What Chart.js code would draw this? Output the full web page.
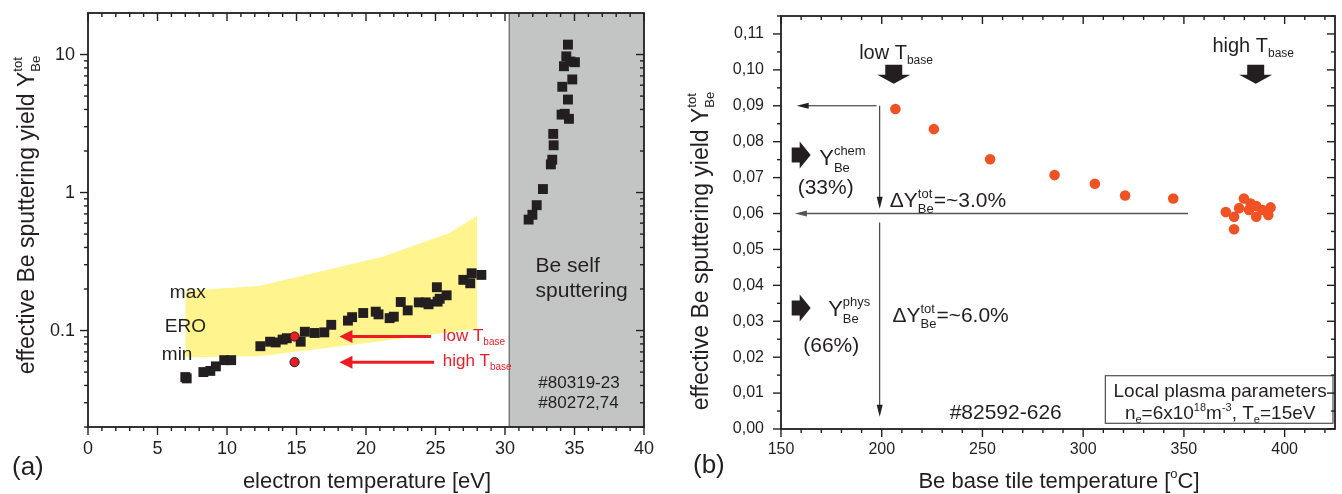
<!DOCTYPE html>
<html>
<head>
<meta charset="utf-8">
<script src="https://cdn.jsdelivr.net/npm/chart.js@4.4.0/dist/chart.umd.min.js"></script>
<style>
  html, body { margin: 0; padding: 0; background: #fff; }
  #wrap { position: relative; width: 1342px; height: 494px; }
  canvas { position: absolute; top: 0; }
  #chart-a { left: 0; }
  #chart-b { left: 660px; }
</style>
</head>
<body>
<div id="wrap">
  <canvas id="chart-a" width="660" height="494"></canvas>
  <canvas id="chart-b" width="682" height="494"></canvas>
</div>
<script>
const INK = '#231f20';
const RED = '#ed1c24';
const ORANGE = '#f05224';
const FONT = '"Liberation Sans", Arial, Helvetica, sans-serif';

// ---- (a) yield vs electron temperature ----
const teEro  = [7, 12.3, 21.2, 26, 28];
const eroMax = [0.194, 0.21, 0.343, 0.51, 0.68];
const eroMin = [0.064, 0.065, 0.084, 0.097, 0.103];

const teMeas = [7.0, 7.1, 8.3, 8.8, 9.2, 9.8, 10.3, 12.4, 13.1, 13.5, 14.0, 14.3, 15.3, 15.6, 16.3, 17.0, 17.5, 18.7, 19.0, 19.8, 20.7, 20.9, 21.7, 22.0, 22.5, 23.0, 23.8, 24.3, 24.5, 25.1, 25.15, 25.3, 25.8, 27.0, 27.5, 27.6, 28.3];
const yMeas  = [0.046, 0.045, 0.050, 0.051, 0.055, 0.061, 0.061, 0.077, 0.083, 0.082, 0.086, 0.088, 0.083, 0.098, 0.096, 0.097, 0.110, 0.118, 0.125, 0.134, 0.137, 0.131, 0.123, 0.126, 0.161, 0.140, 0.160, 0.160, 0.155, 0.206, 0.162, 0.170, 0.180, 0.233, 0.220, 0.260, 0.253];

const teSelf = [31.7, 31.97, 32.28, 32.73, 33.3, 33.4, 33.5, 33.47, 34.07, 34.3, 34.6, 34.53, 34.12, 34.84, 34.24, 34.41, 35.03, 34.7, 34.53];
const ySelf  = [0.637, 0.69, 0.81, 1.06, 1.6, 1.73, 2.2, 2.66, 3.67, 3.72, 3.42, 4.72, 5.84, 6.6, 8.23, 9.7, 8.8, 8.9, 11.8];

const teMarked = [14.86, 14.86];   // low / high T_base
const yMarked  = [0.0905, 0.059];

const selfRange = [30.3, 40];

const xTicksA = [0, 5, 10, 15, 20, 25, 30, 35, 40];
const yTicksA = [0.1, 1, 10];
const yTickLabelsA = ['0.1', '1', '10'];

// ---- (b) yield vs base tile temperature ----
const tBase = [206.8, 225.9, 253.8, 285.8, 305.8, 320.8, 344.7, 370.8, 374.9, 374.9, 377.4, 379.8, 382.3, 383.1, 385.9, 385.9, 388.9, 391.9, 393.0];
const yBase = [0.0891, 0.0835, 0.0751, 0.0707, 0.0683, 0.0650, 0.0642, 0.0604, 0.0591, 0.0556, 0.0615, 0.0642, 0.0610, 0.0628, 0.0621, 0.0591, 0.0610, 0.0596, 0.0617];

const xTicksB = [150, 200, 250, 300, 350, 400];
const yTicksB = [0, 0.01, 0.02, 0.03, 0.04, 0.05, 0.06, 0.07, 0.08, 0.09, 0.10, 0.11];
const yTickLabelsB = ['0,00', '0,01', '0,02', '0,03', '0,04', '0,05', '0,06', '0,07', '0,08', '0,09', '0,10', '0,11'];

// minor tick values
const xMinorA = [];
for (let v = 1; v < 40; v++) if (v % 5) xMinorA.push(v);
const yMinorA = [];
[0.01, 0.1, 1].forEach(d => { for (let k = 2; k <= 9; k++) if (d * k > 0.02 - 1e-9) yMinorA.push(d * k); });
const xMinorB = [];
for (let v = 160; v <= 420; v += 10) if (v % 50) xMinorB.push(v);
const yMinorB = [];
for (let k = 0; k < 12; k++) yMinorB.push(k * 0.01 + 0.005);

const pts = (xs, ys) => xs.map((x, i) => ({ x, y: ys[i] }));

function line(ctx, x1, y1, x2, y2) {
  ctx.beginPath(); ctx.moveTo(x1, y1); ctx.lineTo(x2, y2); ctx.stroke();
}

// text runs: [text, size, dy] or { sup: [...], sub: [...] }
function rich(ctx, parts, x, y, align) {
  const w = p => { ctx.font = p[1] + 'px ' + FONT; return ctx.measureText(p[0]).width; };
  let total = 0;
  parts.forEach(p => {
    total += Array.isArray(p) ? w(p) : Math.max(p.sup ? w(p.sup) : 0, p.sub ? w(p.sub) : 0);
  });
  let cx = align === 'center' ? x - total / 2 : x;
  ctx.textAlign = 'left';
  ctx.textBaseline = 'alphabetic';
  parts.forEach(p => {
    if (Array.isArray(p)) {
      ctx.font = p[1] + 'px ' + FONT;
      ctx.fillText(p[0], cx, y + (p[2] || 0));
      cx += ctx.measureText(p[0]).width;
    } else {
      let m = 0;
      [p.sup, p.sub].forEach(q => {
        if (!q) return;
        ctx.font = q[1] + 'px ' + FONT;
        ctx.fillText(q[0], cx, y + q[2]);
        m = Math.max(m, ctx.measureText(q[0]).width);
      });
      cx += m;
    }
  });
}

function text(ctx, s, x, y, size, align) {
  ctx.font = size + 'px ' + FONT;
  ctx.textAlign = align || 'left';
  ctx.textBaseline = 'middle';
  ctx.fillText(s, x, y);
}

const yTitle = [['effective Be sputtering yield Y', 23], { sup: ['tot', 13, -12], sub: ['Be', 13, 6] }];

// frame + tick marks on all four sides
const frameTicks = {
  id: 'frameTicks',
  afterDraw(chart, args, o) {
    const { ctx, chartArea: a, scales: { x, y } } = chart;
    ctx.save();
    ctx.strokeStyle = INK;
    ctx.lineWidth = 1.4;
    const xt = (vals, len) => vals.forEach(v => {
      const p = x.getPixelForValue(v);
      line(ctx, p, a.bottom, p, a.bottom + len);
      line(ctx, p, a.top, p, a.top + len);
    });
    const yt = (vals, len) => vals.forEach(v => {
      const p = y.getPixelForValue(v);
      line(ctx, a.left - len, p, a.left, p);
      line(ctx, a.right - len, p, a.right, p);
    });
    xt(o.xMajor, 8); xt(o.xMinor, 4);
    yt(o.yMajor, 8); yt(o.yMinor, 4);
    ctx.lineWidth = 1.8;
    ctx.strokeRect(a.left, a.top, a.right - a.left, a.bottom - a.top);
    ctx.restore();
  }
};

const notesA = {
  id: 'notesA',
  beforeDatasetsDraw(chart) {
    const { ctx, chartArea: a, scales: { x } } = chart;
    const x0 = x.getPixelForValue(selfRange[0]);
    const x1 = x.getPixelForValue(selfRange[1]);
    ctx.save();
    ctx.fillStyle = '#c3c4c4';
    ctx.fillRect(x0, a.top, x1 - x0, a.bottom - a.top);
    ctx.strokeStyle = '#4a4a4a';
    ctx.lineWidth = 1;
    line(ctx, x0, a.top, x0, a.bottom);
    ctx.restore();
  },
  afterDatasetsDraw(chart) {
    const { ctx, scales: { x, y } } = chart;
    const X = v => x.getPixelForValue(v), Y = v => y.getPixelForValue(v);
    ctx.save();
    ctx.fillStyle = INK;
    text(ctx, 'max', X(5.89), Y(0.187), 19);
    text(ctx, 'ERO', X(5.53), Y(0.106), 19);
    text(ctx, 'min', X(5.31), Y(0.0667), 19);
    text(ctx, 'Be self', X(32.2), Y(0.292), 21);
    text(ctx, 'sputtering', X(32.2), Y(0.193), 21);
    text(ctx, '#80319-23', X(32.4), Y(0.0418), 17);
    text(ctx, '#80272,74', X(32.4), Y(0.0299), 17);

    // red arrows
    ctx.strokeStyle = RED; ctx.fillStyle = RED; ctx.lineWidth = 3;
    [[24.67, 0.0905], [24.9, 0.059]].forEach(([from, v]) => {
      const p1 = X(from), p2 = X(18.09), py = Y(v);
      line(ctx, p1, py, p2 + 10, py);
      ctx.beginPath();
      ctx.moveTo(p2, py); ctx.lineTo(p2 + 13, py - 6.5); ctx.lineTo(p2 + 13, py + 6.5);
      ctx.closePath(); ctx.fill();
    });
    rich(ctx, [['low T', 17], { sub: ['base', 10, 4] }], X(25.52), Y(0.0842));
    rich(ctx, [['high T', 17], { sub: ['base', 10, 4] }], X(25.52), Y(0.0555));

    // titles
    ctx.fillStyle = INK;
    rich(ctx, [['electron temperature [eV]', 22]], 367, 488, 'center');
    rich(ctx, [['(a)', 26]], 12, 475);
    ctx.translate(34, 215);
    ctx.rotate(-Math.PI / 2);
    rich(ctx, yTitle, 0, 0, 'center');
    ctx.restore();
  }
};

const notesB = {
  id: 'notesB',
  afterDatasetsDraw(chart) {
    const { ctx, chartArea: a, scales: { x, y } } = chart;
    const X = v => x.getPixelForValue(v), Y = v => y.getPixelForValue(v);
    ctx.save();
    ctx.fillStyle = INK;
    ctx.strokeStyle = INK;

    // block arrows
    const down = (cx, top) => {
      ctx.beginPath();
      ctx.moveTo(cx - 8.5, top); ctx.lineTo(cx + 8.5, top); ctx.lineTo(cx + 8.5, top + 10);
      ctx.lineTo(cx + 16.5, top + 10); ctx.lineTo(cx, top + 19); ctx.lineTo(cx - 16.5, top + 10);
      ctx.lineTo(cx - 8.5, top + 10); ctx.closePath(); ctx.fill();
    };
    const right = (left, cy) => {
      ctx.beginPath();
      ctx.moveTo(left, cy - 7.5); ctx.lineTo(left + 8, cy - 7.5); ctx.lineTo(left + 8, cy - 13.5);
      ctx.lineTo(left + 19, cy); ctx.lineTo(left + 8, cy + 13.5); ctx.lineTo(left + 8, cy + 7.5);
      ctx.lineTo(left, cy + 7.5); ctx.closePath(); ctx.fill();
    };
    down(X(205.97), Y(0.1014));
    down(X(385.64), Y(0.1014));
    right(X(155.3), Y(0.0763));
    right(X(155.3), Y(0.0337));

    // thin arrows
    const hArrow = (from, to, v, lw, col) => {
      const py = Y(v), tip = X(to);
      ctx.strokeStyle = col; ctx.fillStyle = col; ctx.lineWidth = lw;
      line(ctx, X(from), py, tip + 8, py);
      ctx.beginPath(); ctx.moveTo(tip, py); ctx.lineTo(tip + 12, py - 3); ctx.lineTo(tip + 12, py + 3);
      ctx.closePath(); ctx.fill();
    };
    const vArrow = (xv, from, to) => {
      const px = X(xv), tip = Y(to);
      ctx.strokeStyle = INK; ctx.fillStyle = INK; ctx.lineWidth = 1;
      line(ctx, px, Y(from), px, tip - 8);
      ctx.beginPath(); ctx.moveTo(px, tip); ctx.lineTo(px - 3, tip - 12); ctx.lineTo(px + 3, tip - 12);
      ctx.closePath(); ctx.fill();
    };
    hArrow(197.4, 157.8, 0.09, 1, INK);
    vArrow(199, 0.09, 0.0613);
    hArrow(352, 156.9, 0.06, 1.3, '#555555');
    vArrow(199, 0.0575, 0.0034);

    // labels
    ctx.fillStyle = INK;
    rich(ctx, [['low T', 20], { sub: ['base', 12, 5] }], X(188.79), Y(0.1030));
    rich(ctx, [['high T', 20], { sub: ['base', 12, 5] }], X(364.14), Y(0.1050));
    rich(ctx, [['Y', 22], { sup: ['chem', 13, -10], sub: ['Be', 13, 7] }], X(168.97), Y(0.07352));
    rich(ctx, [['(33%)', 21]], X(158.27), Y(0.06544));
    rich(ctx, [['\u0394Y', 21], { sup: ['tot', 13, -9], sub: ['Be', 13, 6] }, ['=~3.0%', 21]], X(203.99), Y(0.06182));
    rich(ctx, [['Y', 22], { sup: ['phys', 13, -10], sub: ['Be', 13, 7] }], X(173.43), Y(0.03147));
    rich(ctx, [['(66%)', 21]], X(161.05), Y(0.02144));
    rich(ctx, [['\u0394Y', 21], { sup: ['tot', 13, -9], sub: ['Be', 13, 6] }, ['=~6.0%', 21]], X(205.33), Y(0.0298));
    rich(ctx, [['#82592-626', 21]], X(233.71), Y(0.00278));

    // parameter box
    const bx = X(311), by = Y(0.01484), bb = Y(0.00159);
    ctx.fillStyle = '#fff';
    ctx.fillRect(bx, by, a.right - bx, bb - by);
    ctx.strokeStyle = '#4d4d4d'; ctx.lineWidth = 1.2;
    ctx.strokeRect(bx, by, a.right - bx - 2, bb - by);
    ctx.fillStyle = INK;
    const mid = (bx + a.right) / 2;
    rich(ctx, [['Local plasma parameters', 19]], mid, by + 21, 'center');
    rich(ctx, [['n', 19], { sub: ['e', 11, 4] }, ['=6x10', 19], { sup: ['18', 11, -8] }, ['m', 19],
               { sup: ['-3', 11, -8] }, [', T', 19], { sub: ['e', 11, 4] }, ['=15eV', 19]], mid, by + 43, 'center');

    // titles
    rich(ctx, [['Be base tile temperature [', 22], { sup: ['o', 13, -10] }, ['C]', 22]], 399, 488, 'center');
    rich(ctx, [['(b)', 26]], 33, 473);
    ctx.translate(48, 251);
    ctx.rotate(-Math.PI / 2);
    rich(ctx, yTitle, 0, 0, 'center');
    ctx.restore();
  }
};

const tickFont = size => ({ family: FONT, size });
// fixed axis boxes, no extra label padding around the plot area
const fixX = h => s => { s.height = h; s.paddingLeft = 0; s.paddingRight = 0; };
const fixY = w => s => { s.width = w; s.paddingTop = 0; s.paddingBottom = 0; };

new Chart(document.getElementById('chart-a'), {
  type: 'scatter',
  data: {
    datasets: [
      { type: 'line', data: pts(teEro, eroMax), borderWidth: 0, borderColor: 'rgba(0,0,0,0)', pointRadius: 0,
        fill: '+1', backgroundColor: '#fff48d', tension: 0, order: 5 },
      { type: 'line', data: pts(teEro, eroMin), borderWidth: 0, borderColor: 'rgba(0,0,0,0)', pointRadius: 0,
        fill: false, tension: 0, order: 4 },
      { data: pts(teMeas, yMeas), pointStyle: 'rect', pointRadius: 7, backgroundColor: INK, borderWidth: 0, order: 2 },
      { data: pts(teSelf, ySelf), pointStyle: 'rect', pointRadius: 7, backgroundColor: INK, borderWidth: 0, order: 2 },
      { data: pts(teMarked, yMarked), pointStyle: 'circle', pointRadius: 4.6, backgroundColor: RED,
        borderColor: INK, borderWidth: 1, order: 1 }
    ]
  },
  options: {
    responsive: false,
    animation: false,
    events: [],
    devicePixelRatio: 1,
    layout: { padding: { top: 13, right: 16, left: 0, bottom: 0 } },
    plugins: {
      legend: { display: false },
      tooltip: { enabled: false },
      frameTicks: { xMajor: xTicksA, xMinor: xMinorA, yMajor: yTicksA, yMinor: yMinorA }
    },
    scales: {
      x: {
        type: 'linear', min: 0, max: 40,
        grid: { display: false, drawTicks: false }, border: { display: false },
        afterBuildTicks: s => { s.ticks = xTicksA.map(v => ({ value: v })); },
        afterFit: fixX(67),
        ticks: { color: INK, font: tickFont(18), padding: 11, maxRotation: 0, autoSkip: false }
      },
      y: {
        type: 'logarithmic', min: 0.02, max: 20,
        grid: { display: false, drawTicks: false }, border: { display: false },
        afterBuildTicks: s => { s.ticks = yTicksA.map(v => ({ value: v })); },
        afterFit: fixY(88),
        ticks: { color: INK, font: tickFont(18), padding: 13, autoSkip: false,
                 callback: (v, i) => yTickLabelsA[i] }
      }
    }
  },
  plugins: [notesA, frameTicks]
});

new Chart(document.getElementById('chart-b'), {
  type: 'scatter',
  data: {
    datasets: [
      { data: pts(tBase, yBase), pointStyle: 'circle', pointRadius: 5.3, backgroundColor: ORANGE, borderWidth: 0 }
    ]
  },
  options: {
    responsive: false,
    animation: false,
    events: [],
    devicePixelRatio: 1,
    layout: { padding: { top: 16, right: 7, left: 0, bottom: 0 } },
    plugins: {
      legend: { display: false },
      tooltip: { enabled: false },
      frameTicks: { xMajor: xTicksB, xMinor: xMinorB, yMajor: yTicksB, yMinor: yMinorB }
    },
    scales: {
      x: {
        type: 'linear', min: 150, max: 425,
        grid: { display: false, drawTicks: false }, border: { display: false },
        afterBuildTicks: s => { s.ticks = xTicksB.map(v => ({ value: v })); },
        afterFit: fixX(65),
        ticks: { color: INK, font: tickFont(16), padding: 11, maxRotation: 0, autoSkip: false }
      },
      y: {
        type: 'linear', min: 0, max: 0.115,
        grid: { display: false, drawTicks: false }, border: { display: false },
        afterBuildTicks: s => { s.ticks = yTicksB.map(v => ({ value: v })); },
        afterFit: fixY(121),
        ticks: { color: INK, font: tickFont(16), padding: 17, autoSkip: false,
                 callback: (v, i) => yTickLabelsB[i] }
      }
    }
  },
  plugins: [notesB, frameTicks]
});
</script>
</body>
</html>
